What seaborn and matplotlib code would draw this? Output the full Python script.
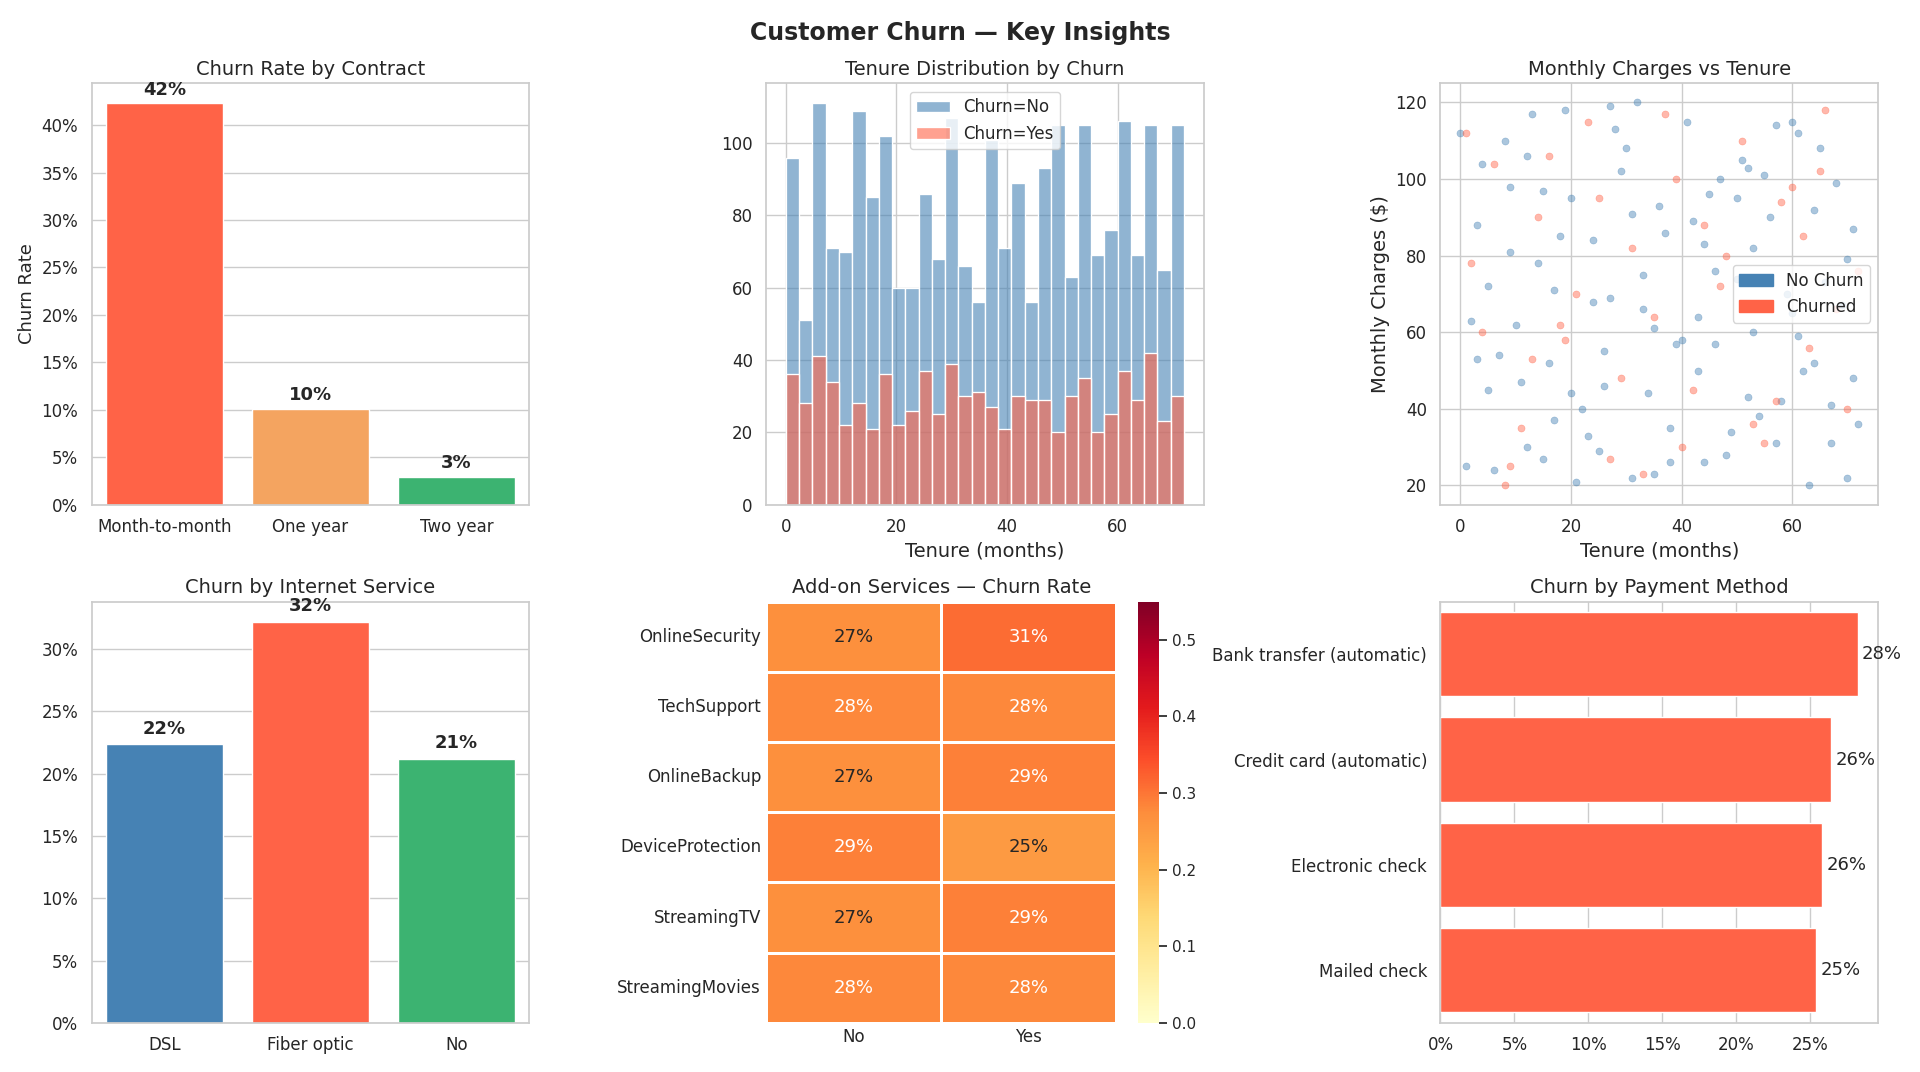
import matplotlib

matplotlib.use("Agg")
import matplotlib.pyplot as plt
import numpy as np
import pandas as pd
import seaborn as sns

CONTRACTS = ["Month-to-month", "One year", "Two year"]
CONTRACT_RATE = [0.423, 0.101, 0.029]

HIST_NO = [96, 51, 111, 71, 70, 109, 85, 102, 60, 60, 86, 68, 107, 66, 56,
           101, 71, 89, 56, 93, 105, 63, 105, 69, 76, 106, 69, 105, 65, 105]
HIST_YES = [36, 28, 41, 34, 22, 28, 21, 36, 22, 26, 37, 25, 39, 30, 31,
            27, 21, 30, 29, 29, 20, 30, 35, 20, 25, 37, 29, 42, 23, 30]

# hand-picked sample of the scatter cloud
NO_TENURE = [1, 3, 5, 8, 10, 12, 15, 17, 19, 22, 24, 26, 29, 31, 33, 36, 38, 41, 43, 46,
             48, 51, 53, 56, 58, 61, 63, 66, 68, 71, 2, 6, 9, 13, 16, 20, 23, 27, 30, 34,
             37, 40, 44, 47, 50, 54, 57, 60, 64, 67, 70, 4, 11, 18, 25, 32, 39, 45, 52, 59,
             65, 72, 7, 14, 21, 28, 35, 42, 49, 55, 62, 69, 0, 26, 44, 61, 15, 33, 52, 70,
             3, 9, 17, 24, 31, 38, 46, 53, 60, 67, 5, 12, 20, 27, 35, 43, 50, 57, 64, 71]
NO_CHARGE = [25, 88, 45, 110, 62, 30, 97, 71, 118, 40, 84, 55, 102, 22, 66, 93, 35, 115, 50, 76,
             28, 105, 60, 90, 42, 112, 20, 73, 99, 48, 63, 24, 81, 117, 52, 95, 33, 69, 108, 44,
             86, 58, 26, 100, 74, 38, 114, 65, 92, 31, 79, 104, 47, 85, 29, 120, 57, 96, 43, 70,
             108, 36, 54, 78, 21, 113, 61, 89, 34, 101, 50, 67, 112, 46, 83, 59, 27, 75, 103, 22,
             53, 98, 37, 68, 91, 26, 57, 82, 115, 41, 72, 106, 44, 119, 23, 64, 95, 31, 52, 87]
YES_TENURE = [2, 6, 11, 14, 19, 23, 27, 31, 35, 39, 42, 47, 51, 55, 58, 63, 66, 70, 4, 9,
              16, 21, 29, 37, 44, 53, 60, 68, 1, 13, 25, 33, 48, 57, 65, 72, 8, 40, 62, 18]
YES_CHARGE = [78, 104, 35, 90, 58, 115, 27, 82, 64, 100, 45, 72, 110, 31, 94, 56, 118, 40, 60, 25,
              106, 70, 48, 117, 88, 36, 98, 66, 112, 53, 95, 23, 80, 42, 102, 76, 20, 30, 85, 62]

INTERNET = ["DSL", "Fiber optic", "No"]
INTERNET_RATE = [0.224, 0.322, 0.212]

ADDONS = ["OnlineSecurity", "TechSupport", "OnlineBackup", "DeviceProtection",
          "StreamingTV", "StreamingMovies"]
ADDON_NO = [0.27, 0.28, 0.27, 0.29, 0.27, 0.28]
ADDON_YES = [0.31, 0.28, 0.29, 0.25, 0.29, 0.28]

PAYMENTS = ["Bank transfer (automatic)", "Credit card (automatic)", "Electronic check", "Mailed check"]
PAYMENT_RATE = [0.282, 0.264, 0.258, 0.254]

BLUE, RED, ORANGE, GREEN = "#4682b4", "#ff6347", "#f4a460", "#3cb371"

sns.set_theme(style="whitegrid")
plt.rcParams["axes.edgecolor"] = "#cccccc"
plt.rcParams["font.family"] = ["DejaVu Sans"]

fig, axes = plt.subplots(2, 3, figsize=(19.2, 10.72))
pct = matplotlib.ticker.PercentFormatter(1.0, decimals=0)

# Contract
ax = axes[0, 0]
sns.barplot(x=CONTRACTS, y=CONTRACT_RATE, hue=CONTRACTS, palette=[RED, ORANGE, GREEN],
            legend=False, ax=ax, width=0.8, saturation=1)
for i, v in enumerate(CONTRACT_RATE):
    ax.text(i, v + 0.005, f"{v:.0%}", ha="center", va="bottom", fontsize=13, fontweight="bold")
ax.yaxis.set_major_formatter(pct)
ax.set_ylabel("Churn Rate", fontsize=13)
ax.set_title("Churn Rate by Contract", fontsize=14)

# Tenure histogram (30 bins of 2.4 months)
ax = axes[0, 1]
centers = 1.2 + 2.4 * np.arange(len(HIST_NO))
hist = pd.DataFrame({"tenure": centers, "no": HIST_NO, "yes": HIST_YES})
sns.histplot(data=hist, x="tenure", weights="no", binwidth=2.4, binrange=(0, 72),
             color=BLUE, alpha=0.6, label="Churn=No", ax=ax, edgecolor="white")
sns.histplot(data=hist, x="tenure", weights="yes", binwidth=2.4, binrange=(0, 72),
             color=RED, alpha=0.6, label="Churn=Yes", ax=ax, edgecolor="white")
ax.set_xlabel("Tenure (months)", fontsize=14)
ax.set_ylabel("")
ax.xaxis.set_major_locator(matplotlib.ticker.MultipleLocator(20))
ax.legend(loc="upper center", fontsize=12)
ax.set_title("Tenure Distribution by Churn", fontsize=14)

# Scatter
ax = axes[0, 2]
sns.scatterplot(x=NO_TENURE, y=NO_CHARGE, color=BLUE, alpha=0.45, s=26, edgecolor=None, ax=ax)
sns.scatterplot(x=YES_TENURE, y=YES_CHARGE, color=RED, alpha=0.45, s=26, edgecolor=None, ax=ax)
ax.legend(handles=[matplotlib.patches.Patch(color=BLUE, label="No Churn"),
                   matplotlib.patches.Patch(color=RED, label="Churned")],
          loc="center right", fontsize=12)
ax.xaxis.set_major_locator(matplotlib.ticker.MultipleLocator(20))
ax.set_xlabel("Tenure (months)", fontsize=14)
ax.set_ylabel("Monthly Charges ($)", fontsize=14)
ax.set_title("Monthly Charges vs Tenure", fontsize=14)

# Internet
ax = axes[1, 0]
sns.barplot(x=INTERNET, y=INTERNET_RATE, hue=INTERNET, palette=[BLUE, RED, GREEN],
            legend=False, ax=ax, width=0.8, saturation=1)
for i, v in enumerate(INTERNET_RATE):
    ax.text(i, v + 0.005, f"{v:.0%}", ha="center", va="bottom", fontsize=13, fontweight="bold")
ax.yaxis.set_major_formatter(pct)
ax.set_title("Churn by Internet Service", fontsize=14)

# Heatmap
ax = axes[1, 1]
heat = pd.DataFrame({"No": ADDON_NO, "Yes": ADDON_YES}, index=ADDONS)
sns.heatmap(heat, annot=True, fmt=".0%", cmap="YlOrRd", vmin=0, vmax=0.55,
            linewidths=1, linecolor="white", ax=ax, annot_kws={"fontsize": 13})
ax.tick_params(axis="both", labelsize=12, length=0)
ax.set_title("Add-on Services — Churn Rate", fontsize=14)

# Payment
ax = axes[1, 2]
sns.barplot(x=PAYMENT_RATE, y=PAYMENTS, color=RED, orient="h", ax=ax, saturation=1, width=0.8)
for i, v in enumerate(PAYMENT_RATE):
    ax.text(v + 0.003, i, f"{v:.0%}", va="center", fontsize=13)
ax.xaxis.set_major_formatter(pct)
ax.set_ylabel("")
ax.set_title("Churn by Payment Method", fontsize=14)

for ax in axes.flat:
    ax.tick_params(labelsize=12)

fig.suptitle("Customer Churn — Key Insights", fontsize=17, fontweight="bold")
fig.tight_layout()
fig.savefig("out.png", dpi=100)
